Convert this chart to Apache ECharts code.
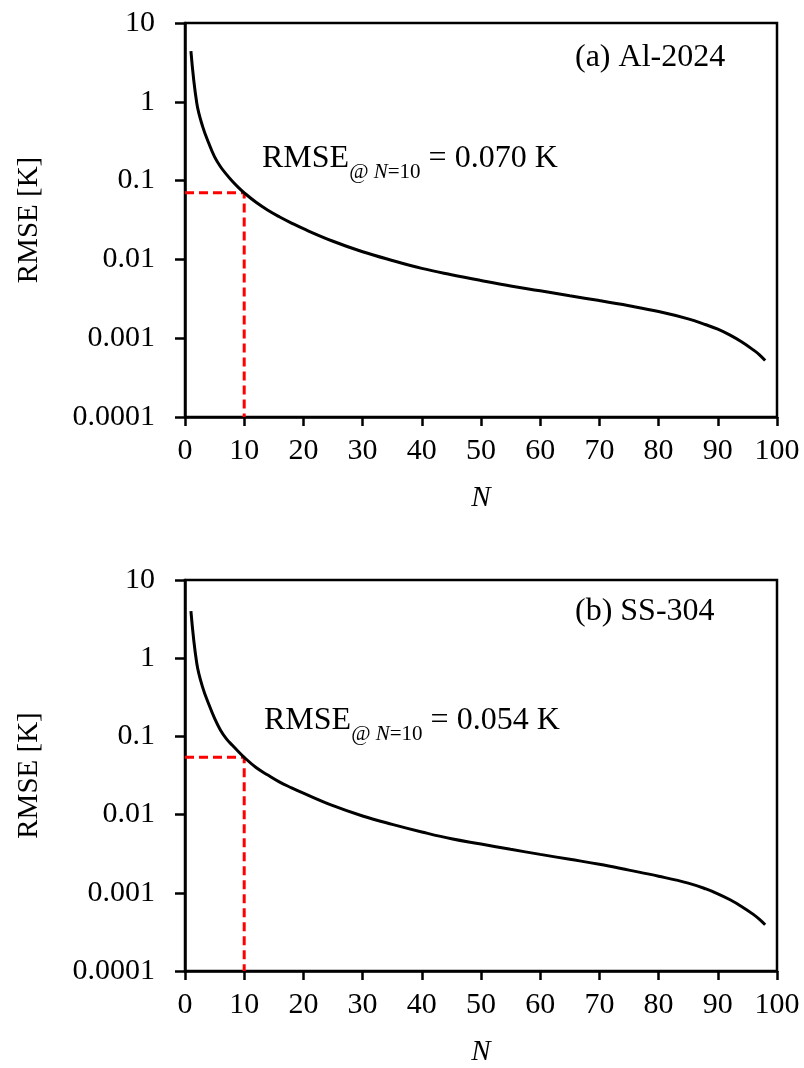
<!DOCTYPE html>
<html>
<head>
<meta charset="utf-8">
<script src="https://cdn.jsdelivr.net/npm/echarts@6/dist/echarts.min.js"></script>
<style>
html,body{margin:0;padding:0;background:#fff;}
#c{width:804px;height:1068px;}
</style>
</head>
<body>
<div id="c"></div>
<script>
// ---- data ----
const nValues = [1, 2, 3, 4, 5, 6, 7, 8, 9, 10, 12, 14, 16, 18, 20, 25, 30, 35, 40, 45, 50, 55, 60, 65, 70, 75, 80, 85, 88, 90, 92, 94, 96, 97, 98];
const rmseAl = [4.4, 0.95, 0.48, 0.30, 0.20, 0.15, 0.12, 0.098, 0.082, 0.070, 0.053, 0.042, 0.0345, 0.0289, 0.0245, 0.0170, 0.0125, 0.0097, 0.0077, 0.0064, 0.0054, 0.0046, 0.0040, 0.00345, 0.0030, 0.00258, 0.00218, 0.00176, 0.00148, 0.0013, 0.00110, 0.00090, 0.00071, 0.00062, 0.00052];
const rmseSS = [4.0, 0.85, 0.42, 0.26, 0.17, 0.12, 0.093, 0.077, 0.064, 0.054, 0.040, 0.032, 0.026, 0.022, 0.0188, 0.0130, 0.0096, 0.0075, 0.0060, 0.0049, 0.0042, 0.0036, 0.0031, 0.00268, 0.00232, 0.00195, 0.00163, 0.00133, 0.00112, 0.00097, 0.00082, 0.00067, 0.00053, 0.00046, 0.00039];
const markerN = 10;
const markerAl = 0.070;
const markerSS = 0.054;
const yTickLabels = ['0.0001', '0.001', '0.01', '0.1', '1', '10'];
const xTickValues = [0, 10, 20, 30, 40, 50, 60, 70, 80, 90, 100];
const panelLabels = ['(a) Al-2024', '(b) SS-304'];
const rmseTexts = ['0.070 K', '0.054 K'];

const FONT = "'Liberation Serif','Times New Roman',serif";
const FS = 30;      // tick labels
const FS_NAME = 29; // axis names
const FS_ANN = 32;  // annotations
const FS_SUB = 21;  // subscript

function pairs(xs, ys){ return xs.map((x,i)=>[x, ys[i]]); }
function markerPath(n, v){ return [[0, v], [n, v], [n, 0.0001]]; }

const grids = [
  {left:185, right:27, top:23, height:394},
  {left:185, right:27, top:580, height:394}
];

function xAx(i){
  return {
    gridIndex:i, type:'value', min:0, max:100, interval:10,
    name:'N', nameLocation:'middle', nameGap:67,
    nameTextStyle:{fontFamily:FONT, fontSize:FS_NAME, fontStyle:'italic', color:'#000'},
    axisLine:{show:true, onZero:false, lineStyle:{color:'#000', width:2.5}},
    axisTick:{show:true, inside:false, length:9, lineStyle:{color:'#000', width:2.5}},
    axisLabel:{fontFamily:FONT, fontSize:FS, color:'#000', margin:19,
      formatter:function(v){ return xTickValues.indexOf(v) >= 0 ? String(v) : ''; }},
    splitLine:{show:false}
  };
}
function yAx(i){
  return {
    gridIndex:i, type:'log', logBase:10, min:0.0001, max:10,
    name:'RMSE [K]', nameLocation:'middle', nameGap:141, nameRotate:90,
    nameTextStyle:{fontFamily:FONT, fontSize:FS_NAME, color:'#000'},
    axisLine:{show:true, lineStyle:{color:'#000', width:2.5}},
    axisTick:{show:true, inside:false, length:10, lineStyle:{color:'#000', width:2.5}},
    axisLabel:{fontFamily:FONT, fontSize:FS, color:'#000', margin:30,
      formatter:function(v){ const k = Math.round(Math.log10(v)); return yTickLabels[k+4] || ''; }},
    splitLine:{show:false},
    minorTick:{show:false}
  };
}

const curveStyle = {color:'#000', width:3};
const dashStyle = {color:'#ff0000', width:3, type:[9,5]};

function curve(i, ys){
  return {type:'line', xAxisIndex:i, yAxisIndex:i, data:pairs(nValues, ys),
    smooth:0.4, showSymbol:false, symbol:'none',
    lineStyle:curveStyle, z:3, silent:true};
}
function marker(i, v){
  return {type:'line', xAxisIndex:i, yAxisIndex:i, data:markerPath(markerN, v),
    showSymbol:false, symbol:'none', lineStyle:dashStyle, z:2, silent:true};
}

function rmseText(left, top, val){
  return {
    type:'text', left:left, top:top,
    style:{
      text:'{m|RMSE}{s|@ }{si|N}{s|=10}{m| = ' + val + '}',
      rich:{
        m:{fontFamily:FONT, fontSize:FS_ANN, fill:'#000', lineHeight:40, verticalAlign:'top'},
        s:{fontFamily:FONT, fontSize:FS_SUB, fill:'#000', lineHeight:40, verticalAlign:'bottom'},
        si:{fontFamily:FONT, fontSize:FS_SUB, fontStyle:'italic', fill:'#000', lineHeight:40, verticalAlign:'bottom'}
      }
    }
  };
}

const chart = echarts.init(document.getElementById('c'), null, {renderer:'canvas'});
chart.setOption({
  animation:false,
  backgroundColor:'#fff',
  grid:grids.map(g=>Object.assign({show:true, borderColor:'#000', borderWidth:2.5, backgroundColor:'transparent'}, g)),
  xAxis:[xAx(0), xAx(1)],
  yAxis:[yAx(0), yAx(1)],
  series:[curve(0, rmseAl), marker(0, markerAl), curve(1, rmseSS), marker(1, markerSS)],
  graphic:[
    {type:'text', left:575, top:42, style:{text:panelLabels[0], fontFamily:FONT, fontSize:FS_ANN, fill:'#000'}},
    {type:'text', left:575, top:596, style:{text:panelLabels[1], fontFamily:FONT, fontSize:FS_ANN, fill:'#000'}},
    rmseText(262, 143, rmseTexts[0]),
    rmseText(264, 705, rmseTexts[1])
  ]
});
</script>
</body>
</html>
